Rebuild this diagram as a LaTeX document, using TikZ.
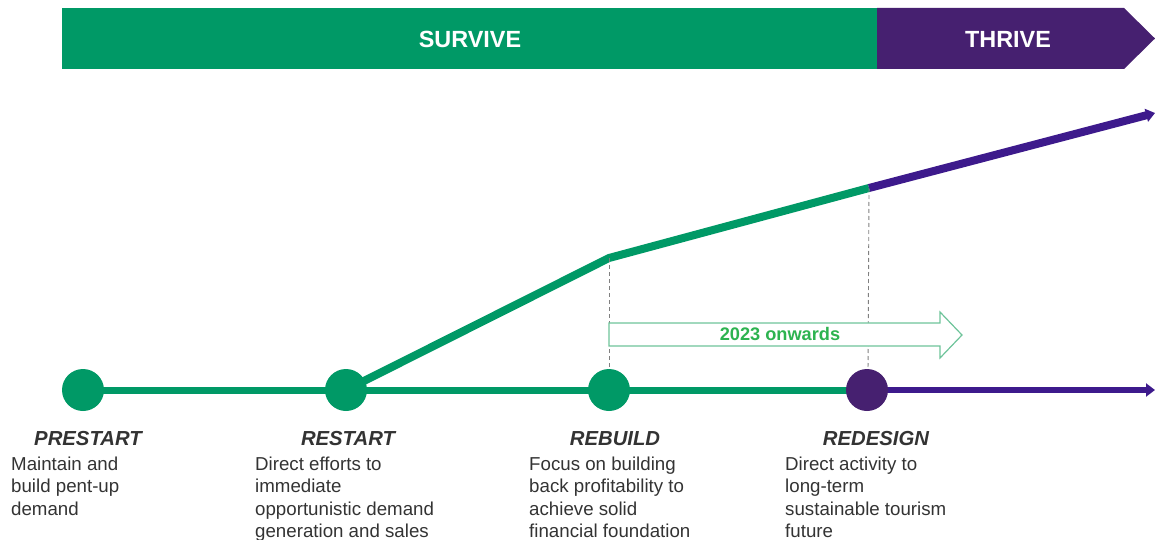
\documentclass[tikz,border=0pt]{standalone}
\usepackage{fontspec}
\setmainfont{Liberation Sans}
\usetikzlibrary{arrows.meta,backgrounds}

\definecolor{surviveGreen}{RGB}{0,153,102}
\definecolor{thrivePurple}{RGB}{70,32,112}
\definecolor{linePurple}{RGB}{61,26,140}
\definecolor{arrowText}{RGB}{45,179,80}
\definecolor{arrowEdge}{RGB}{110,196,154}
\definecolor{bodyText}{RGB}{51,51,51}

\tikzset{
  stage/.style={circle, minimum size=42pt, inner sep=0pt},
  track/.style={line width=7pt},
  rise/.style={line width=8pt, line join=round},
  tipped/.style={-{Triangle[length=9pt,width=13pt]}},
  guide/.style={gray, line width=0.9pt, dash pattern=on 4pt off 3pt},
  title/.style={anchor=base, text=bodyText,
    font=\fontsize{20.3}{24}\selectfont\bfseries\itshape},
  desc/.style={anchor=north west, align=left, inner sep=0pt, text=bodyText,
    font=\fontsize{18.7}{22.5}\selectfont},
  band/.style={text=white, font=\fontsize{23.4}{28}\selectfont\bfseries}
}

\begin{document}
\begin{tikzpicture}[x=1pt,y=-1pt]
\useasboundingbox (0,0) rectangle (1155,540);

% phase banner
\fill[surviveGreen] (62,8) rectangle (877,69);
\fill[thrivePurple] (877,8) -- (1124,8) -- (1155,38.5) -- (1124,69) -- (877,69) -- cycle;
\node[band] (survive) at (470,39) {SURVIVE};
\node[band] (thrive) at (1008,39) {THRIVE};

% stage markers
\node[stage, fill=surviveGreen] (prestart) at (83,390) {};
\node[stage, fill=surviveGreen] (restart) at (346,390) {};
\node[stage, fill=surviveGreen] (rebuild) at (609,390) {};
\node[stage, fill=thrivePurple] (redesign) at (867,390) {};

% growth path knees and arrow ends
\coordinate (knee1) at (609,258);
\coordinate (knee2) at (869,188);
\coordinate (riseEnd) at (1155,113);
\coordinate (baseEnd) at (1155,390);
\coordinate (guide1) at (609,372);
\coordinate (guide2) at (868,372);

\begin{scope}[on background layer]
  \draw[track, surviveGreen] (prestart.center) -- (redesign.center);
  \draw[track, linePurple, tipped, line width=6pt] (redesign.center) -- (baseEnd);
  \draw[rise, surviveGreen] (restart.center) -- (knee1) -- (knee2);
  \draw[rise, linePurple, tipped] (knee2) -- (riseEnd);
  \draw[guide] (knee1) -- (guide1);
  \draw[guide] (knee2) -- (guide2);
\end{scope}

% outlined period arrow
\filldraw[fill=white, draw=arrowEdge, line width=1.2pt, line join=miter]
  (609,323) -- (940,323) -- (940,312) -- (962,335) -- (940,358) -- (940,346)
  -- (609,346) -- cycle;
\node[text=arrowText, font=\fontsize{18.2}{21}\selectfont\bfseries] (onwards) at (780,334.5) {2023 onwards};

% stage titles
\node[title] (t1) at (88,445) {PRESTART};
\node[title] (t2) at (348,445) {RESTART};
\node[title] (t3) at (615,445) {REBUILD};
\node[title] (t4) at (876,445) {REDESIGN};

% stage descriptions
\node[desc] (d1) at (11,456.5) {Maintain and\\build pent-up\\demand};
\node[desc] (d2) at (255,456.5) {Direct efforts to\\immediate\\opportunistic demand\\generation and sales};
\node[desc] (d3) at (529,456.5) {Focus on building\\back profitability to\\achieve solid\\financial foundation};
\node[desc] (d4) at (785,456.5) {Direct activity to\\long-term\\sustainable tourism\\future};
\end{tikzpicture}
\end{document}
